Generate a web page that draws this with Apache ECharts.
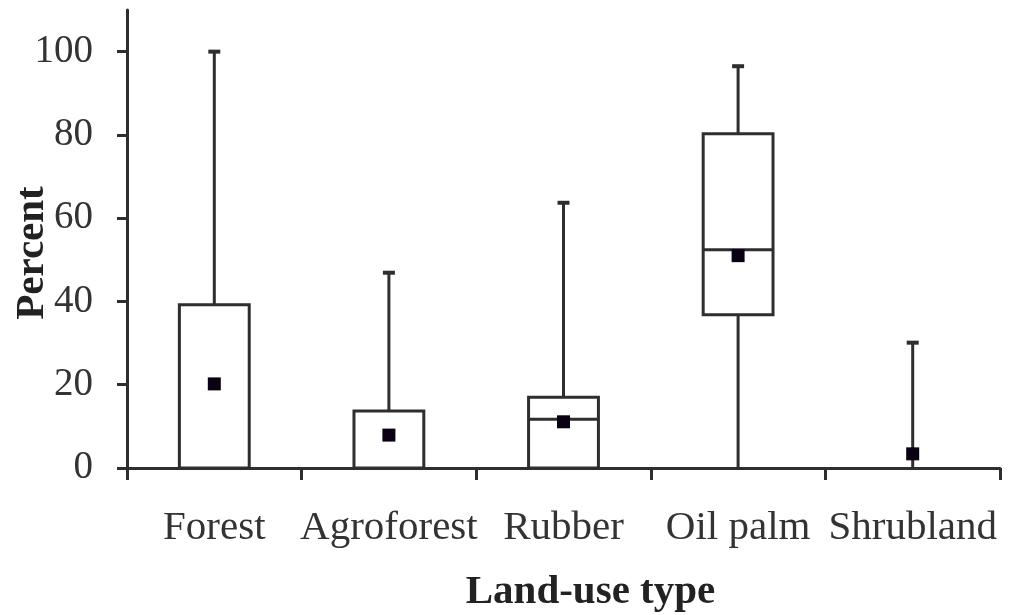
<!DOCTYPE html>
<html>
<head>
<meta charset="utf-8">
<script src="https://cdn.jsdelivr.net/npm/echarts@6/dist/echarts.min.js"></script>
<style>
html,body{margin:0;padding:0;background:#fff;}
#chart{width:1014px;height:615px;}
</style>
</head>
<body>
<div id="chart"></div>
<script>
// ---- data ----
var categories = ['Forest', 'Agroforest', 'Rubber', 'Oil palm', 'Shrubland'];
var minValues    = [0, 0, 0, 0, 0];
var q1Values     = [0, 0, 0, 36.8, 0];
var medianValues = [0, 0, 11.7, 52.4, 0];
var q3Values     = [39.2, 13.7, 17.0, 80.3, 0];
var maxValues    = [100, 46.9, 63.7, 96.5, 30.1];
var meanValues   = [20.2, 7.9, 11.1, 51.0, 3.4];
var yTickValues  = [0, 20, 40, 60, 80, 100];

var LINE = '#2e2e2e';
var FONT = 'Liberation Serif';

var boxData = categories.map(function (c, i) {
  return [i, minValues[i], q1Values[i], medianValues[i], q3Values[i], maxValues[i]];
});
var meanData = categories.map(function (c, i) { return [i, meanValues[i]]; });

function renderBox(params, api) {
  var idx = api.value(0);
  var vMin = api.value(1), vQ1 = api.value(2), vMed = api.value(3), vQ3 = api.value(4), vMax = api.value(5);
  var cx = api.coord([idx, 0])[0];
  var bw = api.size([1, 0])[0] * 0.4;
  var capW = 12;
  var yMin = api.coord([idx, vMin])[1];
  var yQ1 = api.coord([idx, vQ1])[1];
  var yMed = api.coord([idx, vMed])[1];
  var yQ3 = api.coord([idx, vQ3])[1];
  var yMax = api.coord([idx, vMax])[1];
  var st = { stroke: LINE, lineWidth: 3, fill: null };
  var children = [];
  children.push({ type: 'line', shape: { x1: cx, y1: yQ3, x2: cx, y2: yMax }, style: st });
  children.push({ type: 'line', shape: { x1: cx - capW / 2, y1: yMax, x2: cx + capW / 2, y2: yMax }, style: { stroke: LINE, lineWidth: 4 } });
  if (vQ1 > vMin) {
    children.push({ type: 'line', shape: { x1: cx, y1: yQ1, x2: cx, y2: yMin }, style: st });
  }
  if (vQ3 > vQ1) {
    children.push({ type: 'rect', shape: { x: cx - bw / 2, y: yQ3, width: bw, height: yQ1 - yQ3 }, style: { stroke: LINE, lineWidth: 3, fill: '#fff' } });
    if (vMed > vQ1 && vMed < vQ3) {
      children.push({ type: 'line', shape: { x1: cx - bw / 2, y1: yMed, x2: cx + bw / 2, y2: yMed }, style: st });
    }
  }
  return { type: 'group', children: children };
}

var chart = echarts.init(document.getElementById('chart'), null, { renderer: 'canvas' });
chart.setOption({
  animation: false,
  backgroundColor: '#fff',
  grid: { left: 127, right: 14, top: 10, bottom: 147, containLabel: false, outerBoundsMode: 'none' },
  xAxis: {
    type: 'category',
    data: categories,
    boundaryGap: true,
    name: 'Land-use type',
    nameLocation: 'middle',
    nameGap: 104,
    nameMoveOverlap: false,
    nameTextStyle: { fontFamily: FONT, fontSize: 41, fontWeight: 'bold', color: '#222', padding: [0, 0, 0, 54] },
    axisLine: { lineStyle: { color: LINE, width: 3 } },
    axisTick: { show: true, inside: false, length: 12, lineStyle: { color: LINE, width: 3 } },
    axisLabel: { fontFamily: FONT, fontSize: 41, color: '#333', margin: 40, interval: 0 },
    splitLine: { show: false }
  },
  yAxis: {
    type: 'value',
    min: 0,
    max: 110,
    interval: 10,
    name: 'Percent',
    nameLocation: 'middle',
    nameRotate: 90,
    nameGap: 74,
    nameMoveOverlap: false,
    nameTextStyle: { fontFamily: FONT, fontSize: 41, fontWeight: 'bold', color: '#222', padding: [0, 28, 0, 0] },
    axisLine: { show: true, lineStyle: { color: LINE, width: 3 } },
    axisTick: { show: true, inside: false, length: 10, customValues: yTickValues, lineStyle: { color: LINE, width: 3 } },
    axisLabel: { fontFamily: FONT, fontSize: 39, color: '#333', margin: 34, customValues: yTickValues },
    splitLine: { show: false }
  },
  series: [
    {
      type: 'custom',
      renderItem: renderBox,
      data: boxData,
      encode: { x: 0, y: [1, 2, 3, 4, 5] },
      silent: true,
      z: 2
    },
    {
      type: 'scatter',
      data: meanData,
      symbol: 'rect',
      symbolSize: 13,
      itemStyle: { color: '#0a0214', opacity: 1 },
      silent: true,
      z: 3
    }
  ]
});
</script>
</body>
</html>
